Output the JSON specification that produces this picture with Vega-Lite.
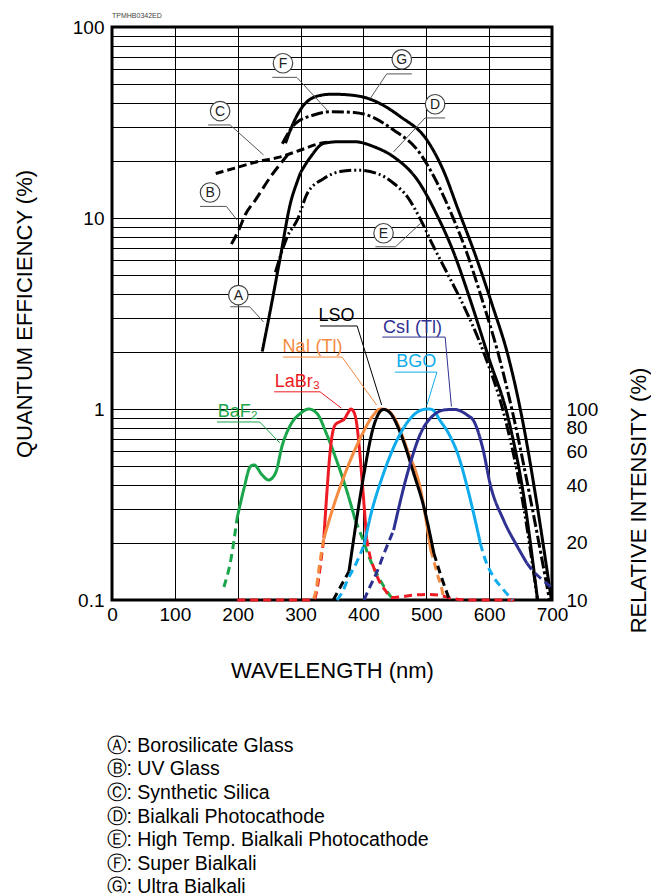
{
"$schema": "https://vega.github.io/schema/vega-lite/v6.json",
"width": 440, "height": 573,
"autosize": {"type": "none"},
"padding": {"left": 112, "top": 27, "right": 99, "bottom": 293},
"title": {"text": "TPMHB0342ED", "anchor": "start", "frame": "group", "fontSize": 7, "fontWeight": "normal", "color": "#444", "offset": -1, "font": "Liberation Sans"},
"config": {
  "font": "Liberation Sans",
  "view": {"stroke": "#000", "strokeWidth": 3},
  "axis": {"labelFont": "Liberation Sans", "titleFont": "Liberation Sans", "labelColor": "#000", "titleColor": "#000", "titleFontWeight": "normal", "gridColor": "#000", "gridOpacity": 1, "gridWidth": 1, "ticks": false, "domain": false, "labelFontSize": 19, "titleFontSize": 22, "labelFlush": false, "labelOverlap": false},
  "legend": {"labelFont": "Liberation Sans"},
  "line": {"strokeCap": "butt"}
},
"datasets": {
  "qe": [
    {"c":"Ⓐ: Borosilicate Glass","wl":239,"qe":2.0},{"c":"Ⓐ: Borosilicate Glass","wl":252,"qe":3.3},{"c":"Ⓐ: Borosilicate Glass","wl":268,"qe":6.3},{"c":"Ⓐ: Borosilicate Glass","wl":284,"qe":12.0},{"c":"Ⓐ: Borosilicate Glass","wl":295,"qe":15.6},{"c":"Ⓐ: Borosilicate Glass","wl":300,"qe":17.3},
    {"c":"Ⓑ: UV Glass","wl":190,"qe":7.3},{"c":"Ⓑ: UV Glass","wl":202,"qe":8.7},{"c":"Ⓑ: UV Glass","wl":212,"qe":10.4},{"c":"Ⓑ: UV Glass","wl":228,"qe":12.4},{"c":"Ⓑ: UV Glass","wl":252,"qe":16.4},{"c":"Ⓑ: UV Glass","wl":279,"qe":21.3},
    {"c":"Ⓒ: Synthetic Silica","wl":165,"qe":17.1},{"c":"Ⓒ: Synthetic Silica","wl":194,"qe":18.2},{"c":"Ⓒ: Synthetic Silica","wl":231,"qe":19.7},{"c":"Ⓒ: Synthetic Silica","wl":268,"qe":20.9},{"c":"Ⓒ: Synthetic Silica","wl":300,"qe":22.7},{"c":"Ⓒ: Synthetic Silica","wl":332,"qe":24.6},{"c":"Ⓒ: Synthetic Silica","wl":345,"qe":25.0},
    {"c":"Ⓓ: Bialkali Photocathode","wl":300,"qe":17.3},{"c":"Ⓓ: Bialkali Photocathode","wl":316,"qe":20.9},{"c":"Ⓓ: Bialkali Photocathode","wl":337,"qe":24.6},{"c":"Ⓓ: Bialkali Photocathode","wl":363,"qe":25.1},{"c":"Ⓓ: Bialkali Photocathode","wl":385,"qe":25.1},{"c":"Ⓓ: Bialkali Photocathode","wl":417,"qe":23.6},{"c":"Ⓓ: Bialkali Photocathode","wl":448,"qe":20.9},{"c":"Ⓓ: Bialkali Photocathode","wl":486,"qe":15.8},{"c":"Ⓓ: Bialkali Photocathode","wl":518,"qe":10.2},{"c":"Ⓓ: Bialkali Photocathode","wl":542,"qe":6.8},{"c":"Ⓓ: Bialkali Photocathode","wl":570,"qe":3.72},{"c":"Ⓓ: Bialkali Photocathode","wl":599,"qe":1.87},{"c":"Ⓓ: Bialkali Photocathode","wl":631,"qe":0.876},{"c":"Ⓓ: Bialkali Photocathode","wl":656,"qe":0.334},{"c":"Ⓓ: Bialkali Photocathode","wl":677,"qe":0.1},
    {"c":"Ⓔ: High Temp. Bialkali Photocathode","wl":260,"qe":5.2},{"c":"Ⓔ: High Temp. Bialkali Photocathode","wl":279,"qe":8.0},{"c":"Ⓔ: High Temp. Bialkali Photocathode","wl":295,"qe":9.8},{"c":"Ⓔ: High Temp. Bialkali Photocathode","wl":311,"qe":13.5},{"c":"Ⓔ: High Temp. Bialkali Photocathode","wl":337,"qe":16.1},{"c":"Ⓔ: High Temp. Bialkali Photocathode","wl":363,"qe":17.5},{"c":"Ⓔ: High Temp. Bialkali Photocathode","wl":390,"qe":17.8},{"c":"Ⓔ: High Temp. Bialkali Photocathode","wl":422,"qe":17.1},{"c":"Ⓔ: High Temp. Bialkali Photocathode","wl":448,"qe":15.2},{"c":"Ⓔ: High Temp. Bialkali Photocathode","wl":470,"qe":12.9},{"c":"Ⓔ: High Temp. Bialkali Photocathode","wl":491,"qe":9.8},{"c":"Ⓔ: High Temp. Bialkali Photocathode","wl":511,"qe":7.14},{"c":"Ⓔ: High Temp. Bialkali Photocathode","wl":534,"qe":5.09},{"c":"Ⓔ: High Temp. Bialkali Photocathode","wl":558,"qe":3.55},{"c":"Ⓔ: High Temp. Bialkali Photocathode","wl":591,"qe":1.99},{"c":"Ⓔ: High Temp. Bialkali Photocathode","wl":626,"qe":0.876},{"c":"Ⓔ: High Temp. Bialkali Photocathode","wl":653,"qe":0.334},{"c":"Ⓔ: High Temp. Bialkali Photocathode","wl":677,"qe":0.1},
    {"c":"Ⓕ: Super Bialkali","wl":271,"qe":24.5},{"c":"Ⓕ: Super Bialkali","wl":292,"qe":31.3},{"c":"Ⓕ: Super Bialkali","wl":321,"qe":34.6},{"c":"Ⓕ: Super Bialkali","wl":348,"qe":36.0},{"c":"Ⓕ: Super Bialkali","wl":385,"qe":35.7},{"c":"Ⓕ: Super Bialkali","wl":406,"qe":34.6},{"c":"Ⓕ: Super Bialkali","wl":448,"qe":28.9},{"c":"Ⓕ: Super Bialkali","wl":486,"qe":22.7},{"c":"Ⓕ: Super Bialkali","wl":515,"qe":15.8},{"c":"Ⓕ: Super Bialkali","wl":540,"qe":10.5},{"c":"Ⓕ: Super Bialkali","wl":564,"qe":6.64},{"c":"Ⓕ: Super Bialkali","wl":589,"qe":3.72},{"c":"Ⓕ: Super Bialkali","wl":615,"qe":1.92},{"c":"Ⓕ: Super Bialkali","wl":640,"qe":0.876},{"c":"Ⓕ: Super Bialkali","wl":666,"qe":0.334},{"c":"Ⓕ: Super Bialkali","wl":696,"qe":0.1},
    {"c":"Ⓖ: Ultra Bialkali","wl":276,"qe":24.6},{"c":"Ⓖ: Ultra Bialkali","wl":284,"qe":29},{"c":"Ⓖ: Ultra Bialkali","wl":300,"qe":37},{"c":"Ⓖ: Ultra Bialkali","wl":326,"qe":43.4},{"c":"Ⓖ: Ultra Bialkali","wl":350,"qe":44.5},{"c":"Ⓖ: Ultra Bialkali","wl":380,"qe":44},{"c":"Ⓖ: Ultra Bialkali","wl":406,"qe":42.4},{"c":"Ⓖ: Ultra Bialkali","wl":459,"qe":33.9},{"c":"Ⓖ: Ultra Bialkali","wl":501,"qe":25.6},{"c":"Ⓖ: Ultra Bialkali","wl":527,"qe":17.8},{"c":"Ⓖ: Ultra Bialkali","wl":551,"qe":11.0},{"c":"Ⓖ: Ultra Bialkali","wl":578,"qe":6.4},{"c":"Ⓖ: Ultra Bialkali","wl":605,"qe":3.5},{"c":"Ⓖ: Ultra Bialkali","wl":631,"qe":1.85},{"c":"Ⓖ: Ultra Bialkali","wl":653,"qe":0.876},{"c":"Ⓖ: Ultra Bialkali","wl":675,"qe":0.334},{"c":"Ⓖ: Ultra Bialkali","wl":699,"qe":0.1}
  ],
  "crystal": [
    {"crystal":"BaF2","sid":"BaF2a","seg":"dash","wl":178,"ri":11.7},{"crystal":"BaF2","sid":"BaF2a","seg":"dash","wl":189,"ri":16.2},{"crystal":"BaF2","sid":"BaF2a","seg":"dash","wl":199,"ri":26.8},
    {"crystal":"BaF2","sid":"BaF2b","seg":"solid","wl":199,"ri":26.8},{"crystal":"BaF2","sid":"BaF2b","seg":"solid","wl":210,"ri":38.4},{"crystal":"BaF2","sid":"BaF2b","seg":"solid","wl":220,"ri":49.9},{"crystal":"BaF2","sid":"BaF2b","seg":"solid","wl":226,"ri":50.9},{"crystal":"BaF2","sid":"BaF2b","seg":"solid","wl":239,"ri":45.1},{"crystal":"BaF2","sid":"BaF2b","seg":"solid","wl":249,"ri":42.5},{"crystal":"BaF2","sid":"BaF2b","seg":"solid","wl":260,"ri":46.1},{"crystal":"BaF2","sid":"BaF2b","seg":"solid","wl":271,"ri":64.8},{"crystal":"BaF2","sid":"BaF2b","seg":"solid","wl":284,"ri":82.5},{"crystal":"BaF2","sid":"BaF2b","seg":"solid","wl":300,"ri":94.9},{"crystal":"BaF2","sid":"BaF2b","seg":"solid","wl":313,"ri":100},{"crystal":"BaF2","sid":"BaF2b","seg":"solid","wl":326,"ri":94.9},{"crystal":"BaF2","sid":"BaF2b","seg":"solid","wl":342,"ri":73.1},{"crystal":"BaF2","sid":"BaF2b","seg":"solid","wl":358,"ri":53},{"crystal":"BaF2","sid":"BaF2b","seg":"solid","wl":374,"ri":36.9},{"crystal":"BaF2","sid":"BaF2b","seg":"solid","wl":387,"ri":26.2},
    {"crystal":"BaF2","sid":"BaF2c","seg":"dash","wl":387,"ri":26.2},{"crystal":"BaF2","sid":"BaF2c","seg":"dash","wl":395,"ri":22.5},{"crystal":"BaF2","sid":"BaF2c","seg":"dash","wl":410,"ri":16.5},{"crystal":"BaF2","sid":"BaF2c","seg":"dash","wl":425,"ri":13},{"crystal":"BaF2","sid":"BaF2c","seg":"dash","wl":440,"ri":10.8},{"crystal":"BaF2","sid":"BaF2c","seg":"dash","wl":448,"ri":10},
    {"crystal":"LaBr3","sid":"LaBr3a","seg":"dash","wl":199,"ri":10},{"crystal":"LaBr3","sid":"LaBr3a","seg":"dash","wl":321,"ri":10},{"crystal":"LaBr3","sid":"LaBr3a","seg":"dash","wl":326,"ri":11.3},{"crystal":"LaBr3","sid":"LaBr3a","seg":"dash","wl":332,"ri":15.6},{"crystal":"LaBr3","sid":"LaBr3a","seg":"dash","wl":337,"ri":21},
    {"crystal":"LaBr3","sid":"LaBr3b","seg":"solid","wl":337,"ri":21},{"crystal":"LaBr3","sid":"LaBr3b","seg":"solid","wl":342,"ri":37},{"crystal":"LaBr3","sid":"LaBr3b","seg":"solid","wl":346,"ri":55},{"crystal":"LaBr3","sid":"LaBr3b","seg":"solid","wl":350,"ri":72},{"crystal":"LaBr3","sid":"LaBr3b","seg":"solid","wl":355,"ri":82.5},{"crystal":"LaBr3","sid":"LaBr3b","seg":"solid","wl":363,"ri":86},{"crystal":"LaBr3","sid":"LaBr3b","seg":"solid","wl":370,"ri":89},{"crystal":"LaBr3","sid":"LaBr3b","seg":"solid","wl":375,"ri":95},{"crystal":"LaBr3","sid":"LaBr3b","seg":"solid","wl":380,"ri":100},{"crystal":"LaBr3","sid":"LaBr3b","seg":"solid","wl":385,"ri":96},{"crystal":"LaBr3","sid":"LaBr3b","seg":"solid","wl":389,"ri":85},{"crystal":"LaBr3","sid":"LaBr3b","seg":"solid","wl":394,"ri":60},{"crystal":"LaBr3","sid":"LaBr3b","seg":"solid","wl":399,"ri":38},{"crystal":"LaBr3","sid":"LaBr3b","seg":"solid","wl":405,"ri":21},
    {"crystal":"LaBr3","sid":"LaBr3c","seg":"dash","wl":405,"ri":21},{"crystal":"LaBr3","sid":"LaBr3c","seg":"dash","wl":410,"ri":17.2},{"crystal":"LaBr3","sid":"LaBr3c","seg":"dash","wl":417,"ri":14.6},{"crystal":"LaBr3","sid":"LaBr3c","seg":"dash","wl":425,"ri":12.6},{"crystal":"LaBr3","sid":"LaBr3c","seg":"dash","wl":435,"ri":11.2},{"crystal":"LaBr3","sid":"LaBr3c","seg":"dash","wl":445,"ri":10.3},{"crystal":"LaBr3","sid":"LaBr3c","seg":"dash","wl":460,"ri":10.4},{"crystal":"LaBr3","sid":"LaBr3c","seg":"dash","wl":480,"ri":10.6},{"crystal":"LaBr3","sid":"LaBr3c","seg":"dash","wl":500,"ri":10.7},{"crystal":"LaBr3","sid":"LaBr3c","seg":"dash","wl":520,"ri":10.6},{"crystal":"LaBr3","sid":"LaBr3c","seg":"dash","wl":540,"ri":10.2},{"crystal":"LaBr3","sid":"LaBr3c","seg":"dash","wl":570,"ri":10},{"crystal":"LaBr3","sid":"LaBr3c","seg":"dash","wl":640,"ri":10},
    {"crystal":"NaI (Tl)","sid":"NaIa","seg":"dash","wl":321,"ri":10.2},{"crystal":"NaI (Tl)","sid":"NaIa","seg":"dash","wl":324,"ri":11},{"crystal":"NaI (Tl)","sid":"NaIa","seg":"dash","wl":330,"ri":15.2},{"crystal":"NaI (Tl)","sid":"NaIa","seg":"dash","wl":337,"ri":21},
    {"crystal":"NaI (Tl)","sid":"NaIb","seg":"solid","wl":337,"ri":21},{"crystal":"NaI (Tl)","sid":"NaIb","seg":"solid","wl":353,"ri":31.4},{"crystal":"NaI (Tl)","sid":"NaIb","seg":"solid","wl":374,"ri":48.9},{"crystal":"NaI (Tl)","sid":"NaIb","seg":"solid","wl":395,"ri":70.3},{"crystal":"NaI (Tl)","sid":"NaIb","seg":"solid","wl":416,"ri":93.1},{"crystal":"NaI (Tl)","sid":"NaIb","seg":"solid","wl":427,"ri":100},{"crystal":"NaI (Tl)","sid":"NaIb","seg":"solid","wl":437,"ri":99},{"crystal":"NaI (Tl)","sid":"NaIb","seg":"solid","wl":448,"ri":91.2},{"crystal":"NaI (Tl)","sid":"NaIb","seg":"solid","wl":470,"ri":61},{"crystal":"NaI (Tl)","sid":"NaIb","seg":"solid","wl":491,"ri":37.7},{"crystal":"NaI (Tl)","sid":"NaIb","seg":"solid","wl":507,"ri":18.3},
    {"crystal":"NaI (Tl)","sid":"NaIc","seg":"dash","wl":507,"ri":18.3},{"crystal":"NaI (Tl)","sid":"NaIc","seg":"dash","wl":511,"ri":16.5},{"crystal":"NaI (Tl)","sid":"NaIc","seg":"dash","wl":518,"ri":13.5},{"crystal":"NaI (Tl)","sid":"NaIc","seg":"dash","wl":525,"ri":11.3},{"crystal":"NaI (Tl)","sid":"NaIc","seg":"dash","wl":528,"ri":10},
    {"crystal":"LSO","sid":"LSOa","seg":"dash","wl":352,"ri":10},{"crystal":"LSO","sid":"LSOa","seg":"dash","wl":362,"ri":11.5},{"crystal":"LSO","sid":"LSOa","seg":"dash","wl":377,"ri":14.1},
    {"crystal":"LSO","sid":"LSOb","seg":"solid","wl":377,"ri":14.1},{"crystal":"LSO","sid":"LSOb","seg":"solid","wl":385,"ri":21.4},{"crystal":"LSO","sid":"LSOb","seg":"solid","wl":401,"ri":46},{"crystal":"LSO","sid":"LSOb","seg":"solid","wl":416,"ri":80.7},{"crystal":"LSO","sid":"LSOb","seg":"solid","wl":432,"ri":99.5},{"crystal":"LSO","sid":"LSOb","seg":"solid","wl":443,"ri":94.9},{"crystal":"LSO","sid":"LSOb","seg":"solid","wl":459,"ri":74.6},{"crystal":"LSO","sid":"LSOb","seg":"solid","wl":480,"ri":46},{"crystal":"LSO","sid":"LSOb","seg":"solid","wl":496,"ri":30.8},{"crystal":"LSO","sid":"LSOb","seg":"solid","wl":512,"ri":17.6},
    {"crystal":"LSO","sid":"LSOc","seg":"dash","wl":512,"ri":17.6},{"crystal":"LSO","sid":"LSOc","seg":"dash","wl":523,"ri":13.5},{"crystal":"LSO","sid":"LSOc","seg":"dash","wl":536,"ri":10.2},
    {"crystal":"BGO","sid":"BGOa","seg":"dash","wl":358,"ri":10},{"crystal":"BGO","sid":"BGOa","seg":"dash","wl":367,"ri":11.1},{"crystal":"BGO","sid":"BGOa","seg":"dash","wl":376,"ri":13},{"crystal":"BGO","sid":"BGOa","seg":"dash","wl":387,"ri":15.2},{"crystal":"BGO","sid":"BGOa","seg":"dash","wl":401,"ri":19.4},
    {"crystal":"BGO","sid":"BGOb","seg":"solid","wl":401,"ri":19.4},{"crystal":"BGO","sid":"BGOb","seg":"solid","wl":411,"ri":27.3},{"crystal":"BGO","sid":"BGOb","seg":"solid","wl":432,"ri":46},{"crystal":"BGO","sid":"BGOb","seg":"solid","wl":459,"ri":74.6},{"crystal":"BGO","sid":"BGOb","seg":"solid","wl":480,"ri":93.1},{"crystal":"BGO","sid":"BGOb","seg":"solid","wl":496,"ri":99.5},{"crystal":"BGO","sid":"BGOb","seg":"solid","wl":505,"ri":100},{"crystal":"BGO","sid":"BGOb","seg":"solid","wl":512,"ri":97.9},{"crystal":"BGO","sid":"BGOb","seg":"solid","wl":522,"ri":87},{"crystal":"BGO","sid":"BGOb","seg":"solid","wl":535,"ri":75},{"crystal":"BGO","sid":"BGOb","seg":"solid","wl":551,"ri":57},{"crystal":"BGO","sid":"BGOb","seg":"solid","wl":566,"ri":38},{"crystal":"BGO","sid":"BGOb","seg":"solid","wl":578,"ri":26},{"crystal":"BGO","sid":"BGOb","seg":"solid","wl":586,"ri":19.8},
    {"crystal":"BGO","sid":"BGOc","seg":"dash","wl":586,"ri":19.8},{"crystal":"BGO","sid":"BGOc","seg":"dash","wl":594,"ri":16.2},{"crystal":"BGO","sid":"BGOc","seg":"dash","wl":607,"ri":13.2},{"crystal":"BGO","sid":"BGOc","seg":"dash","wl":623,"ri":11.3},{"crystal":"BGO","sid":"BGOc","seg":"dash","wl":637,"ri":10},
    {"crystal":"CsI (Tl)","sid":"CsIa","seg":"dash","wl":401,"ri":10},{"crystal":"CsI (Tl)","sid":"CsIa","seg":"dash","wl":408,"ri":11.3},{"crystal":"CsI (Tl)","sid":"CsIa","seg":"dash","wl":421,"ri":13.9},{"crystal":"CsI (Tl)","sid":"CsIa","seg":"dash","wl":433,"ri":17.6},{"crystal":"CsI (Tl)","sid":"CsIa","seg":"dash","wl":448,"ri":23.2},
    {"crystal":"CsI (Tl)","sid":"CsIb","seg":"solid","wl":448,"ri":23.2},{"crystal":"CsI (Tl)","sid":"CsIb","seg":"solid","wl":470,"ri":46},{"crystal":"CsI (Tl)","sid":"CsIb","seg":"solid","wl":491,"ri":74.6},{"crystal":"CsI (Tl)","sid":"CsIb","seg":"solid","wl":512,"ri":93.1},{"crystal":"CsI (Tl)","sid":"CsIb","seg":"solid","wl":530,"ri":99},{"crystal":"CsI (Tl)","sid":"CsIb","seg":"solid","wl":544,"ri":99.5},{"crystal":"CsI (Tl)","sid":"CsIb","seg":"solid","wl":565,"ri":93},{"crystal":"CsI (Tl)","sid":"CsIb","seg":"solid","wl":576,"ri":86},{"crystal":"CsI (Tl)","sid":"CsIb","seg":"solid","wl":590,"ri":62},{"crystal":"CsI (Tl)","sid":"CsIb","seg":"solid","wl":602,"ri":40},{"crystal":"CsI (Tl)","sid":"CsIb","seg":"solid","wl":623,"ri":26.2},{"crystal":"CsI (Tl)","sid":"CsIb","seg":"solid","wl":645,"ri":19},{"crystal":"CsI (Tl)","sid":"CsIb","seg":"solid","wl":660,"ri":15.6},
    {"crystal":"CsI (Tl)","sid":"CsIc","seg":"dash","wl":660,"ri":15.6},{"crystal":"CsI (Tl)","sid":"CsIc","seg":"dash","wl":668,"ri":14.4},{"crystal":"CsI (Tl)","sid":"CsIc","seg":"dash","wl":682,"ri":13},{"crystal":"CsI (Tl)","sid":"CsIc","seg":"dash","wl":698,"ri":11.7}
  ],
  "clab": [
    {"crystal":"LSO","text":"LSO","wl":357,"qe":3.07},
    {"crystal":"NaI (Tl)","text":"NaI (Tl)","wl":319,"qe":2.11},
    {"crystal":"LaBr3","text":"LaBr₃","wl":295,"qe":1.38},
    {"crystal":"BGO","text":"BGO","wl":484,"qe":1.76},
    {"crystal":"CsI (Tl)","text":"CsI (Tl)","wl":478,"qe":2.65},
    {"crystal":"BaF2","text":"BaF₂","wl":200,"qe":0.965}
  ],
  "clead": [
    {"crystal":"LSO","o":0,"wl":331,"qe":2.72},{"crystal":"LSO","o":1,"wl":390,"qe":2.72},{"crystal":"LSO","o":2,"wl":429,"qe":1.05},
    {"crystal":"NaI (Tl)","o":0,"wl":272,"qe":1.87},{"crystal":"NaI (Tl)","o":1,"wl":366,"qe":1.87},{"crystal":"NaI (Tl)","o":2,"wl":421,"qe":1.05},
    {"crystal":"LaBr3","o":0,"wl":258,"qe":1.23},{"crystal":"LaBr3","o":1,"wl":331,"qe":1.23},{"crystal":"LaBr3","o":2,"wl":365,"qe":1.01},
    {"crystal":"BGO","o":0,"wl":450,"qe":1.56},{"crystal":"BGO","o":1,"wl":517,"qe":1.56},{"crystal":"BGO","o":2,"wl":501,"qe":1.05},
    {"crystal":"CsI (Tl)","o":0,"wl":430,"qe":2.38},{"crystal":"CsI (Tl)","o":1,"wl":530,"qe":2.38},{"crystal":"CsI (Tl)","o":2,"wl":540,"qe":1.03},
    {"crystal":"BaF2","o":0,"wl":167,"qe":0.855},{"crystal":"BaF2","o":1,"wl":235,"qe":0.855},{"crystal":"BaF2","o":2,"wl":267,"qe":0.664}
  ],
  "qlab": [
    {"l":"A","wl":201,"qe":3.95},{"l":"B","wl":156,"qe":13.6},{"l":"C","wl":172,"qe":36.3},{"l":"D","wl":514,"qe":39.4},{"l":"E","wl":432,"qe":8.32},{"l":"F","wl":272,"qe":64.6},{"l":"G","wl":461,"qe":67.7}
  ],
  "qlead": [
    {"id":"A","o":0,"wl":188,"qe":3.43},{"id":"A","o":1,"wl":219,"qe":3.43},{"id":"A","o":2,"wl":241,"qe":2.86},
    {"id":"B","o":0,"wl":140,"qe":11.5},{"id":"B","o":1,"wl":182,"qe":11.5},{"id":"B","o":2,"wl":199,"qe":9.76},
    {"id":"C","o":0,"wl":153,"qe":30.7},{"id":"C","o":1,"wl":188,"qe":30.7},{"id":"C","o":2,"wl":241,"qe":21.4},
    {"id":"D","o":0,"wl":530,"qe":33.4},{"id":"D","o":1,"wl":498,"qe":33.4},{"id":"D","o":2,"wl":448,"qe":22.2},
    {"id":"E","o":0,"wl":419,"qe":7.07},{"id":"E","o":1,"wl":451,"qe":7.07},{"id":"E","o":2,"wl":491,"qe":9.38},
    {"id":"F","o":0,"wl":255,"qe":54.5},{"id":"F","o":1,"wl":294,"qe":54.5},{"id":"F","o":2,"wl":342,"qe":36.8},
    {"id":"G","o":0,"wl":477,"qe":56.8},{"id":"G","o":1,"wl":437,"qe":56.8},{"id":"G","o":2,"wl":411,"qe":42.3}
  ]
},
"layer": [
  {
    "layer": [
      {
        "data": {"name": "qe"},
        "mark": {"type": "line", "strokeWidth": 3, "color": "#000", "interpolate": "monotone"},
        "encoding": {
          "x": {"field": "wl", "type": "quantitative", "scale": {"domain": [0, 700], "nice": false, "zero": false},
                "axis": {"values": [0,100,200,300,400,500,600,700], "grid": true, "title": "WAVELENGTH (nm)", "labelPadding": 5, "titlePadding": 36}},
          "y": {"field": "qe", "type": "quantitative", "scale": {"type": "log", "domain": [0.1, 100], "nice": false},
                "axis": {"values": [0.1,0.2,0.3,0.4,0.5,0.6,0.7,0.8,0.9,1,2,3,4,5,6,7,8,9,10,20,30,40,50,60,70,80,90,100], "format": "~g",
                         "labelExpr": "datum.value == 0.1 || datum.value == 1 || datum.value == 10 || datum.value == 100 ? datum.label : ''",
                         "grid": true, "title": "QUANTUM EFFICIENCY (%)", "labelPadding": 8, "titlePadding": 36}},
          "strokeDash": {"field": "c", "type": "nominal",
            "scale": {"domain": ["Ⓐ: Borosilicate Glass","Ⓑ: UV Glass","Ⓒ: Synthetic Silica","Ⓓ: Bialkali Photocathode","Ⓔ: High Temp. Bialkali Photocathode","Ⓕ: Super Bialkali","Ⓖ: Ultra Bialkali"],
                      "range": [[1,0],[11,5],[8,4],[1,0],[12,3,2,3,2,3],[12,3,3,3],[1,0]]},
            "legend": {"orient": "none", "legendX": -25, "legendY": 709, "direction": "vertical", "title": null, "symbolSize": 0, "symbolStrokeWidth": 0, "symbolOpacity": 0, "labelFontSize": 19.5, "labelColor": "#000", "labelOffset": 0, "rowPadding": 2.6, "labelLimit": 600}}
        }
      },
      {
        "data": {"name": "qlead"},
        "mark": {"type": "line", "strokeWidth": 1, "color": "#555"},
        "encoding": {
          "x": {"field": "wl", "type": "quantitative"},
          "y": {"field": "qe", "type": "quantitative"},
          "detail": {"field": "id"},
          "order": {"field": "o"}
        }
      },
      {
        "data": {"name": "clead"},
        "mark": {"type": "line", "strokeWidth": 1},
        "encoding": {
          "x": {"field": "wl", "type": "quantitative"},
          "y": {"field": "qe", "type": "quantitative"},
          "color": {"field": "crystal", "type": "nominal", "legend": null,
                    "scale": {"domain": ["BaF2","LaBr3","NaI (Tl)","LSO","BGO","CsI (Tl)"], "range": ["#1ba64b","#ed1c24","#f58a41","#000000","#10acec","#2e3192"]}},
          "detail": {"field": "crystal"},
          "order": {"field": "o"}
        }
      },
      {
        "data": {"name": "qlab"},
        "mark": {"type": "point", "shape": "circle", "size": 380, "filled": true, "fill": "#fff", "stroke": "#444", "strokeWidth": 1.2, "opacity": 1},
        "encoding": {
          "x": {"field": "wl", "type": "quantitative"},
          "y": {"field": "qe", "type": "quantitative"}
        }
      },
      {
        "data": {"name": "qlab"},
        "mark": {"type": "text", "fontSize": 14, "color": "#222", "align": "center", "baseline": "middle", "dy": 1},
        "encoding": {
          "x": {"field": "wl", "type": "quantitative"},
          "y": {"field": "qe", "type": "quantitative"},
          "text": {"field": "l"}
        }
      },
      {
        "data": {"name": "clab"},
        "mark": {"type": "text", "fontSize": 18, "align": "center", "baseline": "middle"},
        "encoding": {
          "x": {"field": "wl", "type": "quantitative"},
          "y": {"field": "qe", "type": "quantitative"},
          "text": {"field": "text"},
          "color": {"field": "crystal", "type": "nominal", "legend": null}
        }
      }
    ]
  },
  {
    "data": {"name": "crystal"},
    "mark": {"type": "line", "strokeWidth": 3, "interpolate": "monotone"},
    "encoding": {
      "x": {"field": "wl", "type": "quantitative"},
      "y": {"field": "ri", "type": "quantitative", "scale": {"type": "log", "domain": [10, 10000], "nice": false},
            "axis": {"orient": "right", "values": [10,20,40,60,80,100], "format": "d", "grid": false, "title": "RELATIVE INTENSITY (%)", "labelPadding": 14, "titlePadding": 53, "titleAngle": 270, "titleY": 473}},
      "color": {"field": "crystal", "type": "nominal", "legend": null},
      "strokeDash": {"field": "seg", "type": "nominal", "scale": {"domain": ["solid","dash"], "range": [[1,0],[8,5]]}, "legend": null},
      "detail": {"field": "sid"}
    }
  }
],
"resolve": {"scale": {"y": "independent", "strokeDash": "independent"}}
}
